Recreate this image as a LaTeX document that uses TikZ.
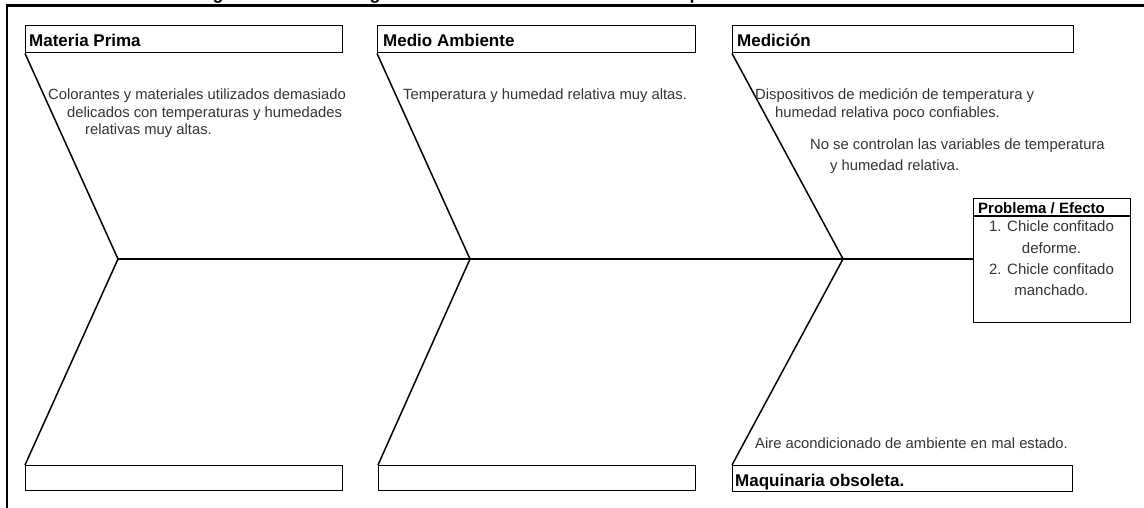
\documentclass[tikz,border=0pt]{standalone}
\usepackage{fontspec}
\setmainfont{Liberation Sans}
\begin{document}
\begin{tikzpicture}[x=1pt,y=-1pt,
  bone/.style={line width=1.5pt, line join=miter},
  frameline/.style={line width=2.2pt},
  catbox/.style={draw, line width=1.4pt, anchor=north west, inner sep=0pt, minimum height=27pt},
  catlabel/.style={anchor=base west, inner sep=0pt, font=\fontsize{17}{20}\selectfont\bfseries},
  cause/.style={anchor=base west, inner sep=0pt, text=black!80, font=\fontsize{14.8}{17}\selectfont},
  effline/.style={anchor=base, inner sep=0pt, text=black!80, font=\fontsize{15}{18}\selectfont},
  titlefrag/.style={anchor=base, inner sep=0pt, font=\fontsize{18}{20}\selectfont\bfseries}]
\useasboundingbox (0,0) rectangle (1144,508);

% title line, cut off above the frame
\begin{scope}
  \clip (0,0) rectangle (1144,4.6);
  \node[titlefrag] (t1) at (218,-0.6) {g};
  \node[titlefrag] (t2) at (375,-0.6) {g};
  \node[titlefrag] (t3) at (695,-0.6) {p};
\end{scope}

% outer frame
\coordinate (fr) at (1144,5.5);
\coordinate (fc) at (7,5.5);
\coordinate (fb) at (7,508);
\draw[frameline] (fr) -- (fc) -- (fb);

% category boxes
\node[catbox, minimum width=317pt] (mp) at (25,25) {};
\node[catbox, minimum width=318pt] (ma) at (377,25) {};
\node[catbox, minimum width=341pt] (me) at (732,25) {};
\node[catbox, minimum width=317pt, minimum height=25pt] (b1) at (25,465) {};
\node[catbox, minimum width=317pt, minimum height=25pt] (b2) at (378,465) {};
\node[catbox, minimum width=340pt, minimum height=26pt] (mq) at (732,465) {};

\node[catlabel] (lmp) at (29,47) {Materia Prima};
\node[catlabel] (lma) at (383,47) {Medio Ambiente};
\node[catlabel] (lme) at (737,47) {Medición};
\node[catlabel] (lmq) at (735,486) {Maquinaria obsoleta.};

% effect box
\node[draw, line width=1.4pt, anchor=north west, inner sep=0pt,
      minimum width=157pt, minimum height=124pt] (eff) at (973,198) {};
\coordinate (hl) at (973,216);
\coordinate (hr) at (1130,216);
\draw[line width=1.4pt] (hl) -- (hr);
\node[anchor=base west, inner sep=0pt, font=\fontsize{15}{18}\selectfont\bfseries] (efft) at (978,213) {Problema / Efecto};
\node[effline] (e1) at (1051.5,232) {1. Chicle confitado};
\node[effline] (e2) at (1051.5,253) {deforme.};
\node[effline] (e3) at (1051.5,274) {2. Chicle confitado};
\node[effline] (e4) at (1051.5,295) {manchado.};

% spine and bones
\coordinate (j1) at (118,259);
\coordinate (j2) at (470,259);
\coordinate (j3) at (843,259);
\draw[bone] (j1) -- (j2) -- (j3) -- (j3 -| eff.west);
\draw[bone] (mp.south west) -- (j1) -- (b1.north west);
\draw[bone] (ma.south west) -- (j2) -- (b2.north west);
\draw[bone] (me.south west) -- (j3) -- (mq.north west);

% causes
\node[cause] (c1) at (48,100) {Colorantes y materiales utilizados demasiado};
\node[cause] (c2) at (67,117.5) {delicados con temperaturas y humedades};
\node[cause] (c3) at (85,135) {relativas muy altas.};
\node[cause] (c4) at (403,100) {Temperatura y humedad relativa muy altas.};
\node[cause] (c5) at (755,100) {Dispositivos de medición de temperatura y};
\node[cause] (c6) at (775,118) {humedad relativa poco confiables.};
\node[cause] (c7) at (810,150) {No se controlan las variables de temperatura};
\node[cause] (c8) at (830,171) {y humedad relativa.};
\node[cause] (c9) at (755,448) {Aire acondicionado de ambiente en mal estado.};
\end{tikzpicture}
\end{document}
